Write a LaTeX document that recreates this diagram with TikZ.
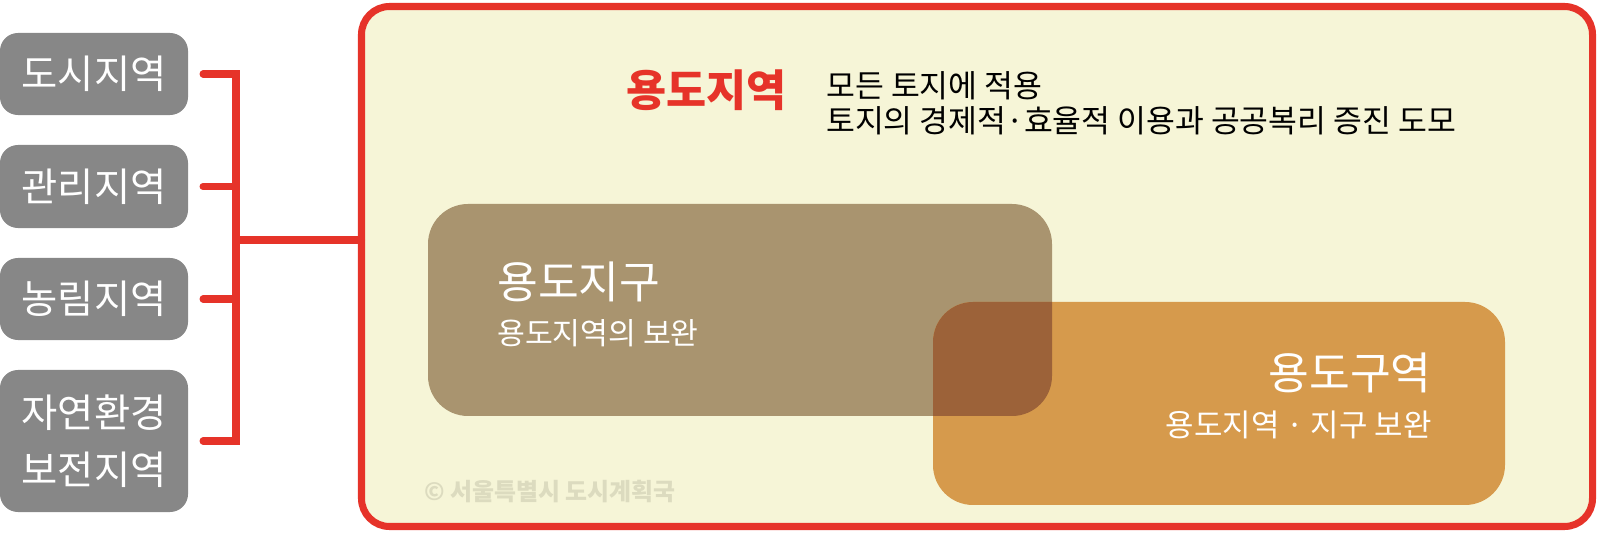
\documentclass[tikz,border=0pt]{standalone}
\usepackage{fontspec}
\setmainfont{Noto Sans CJK KR}
\definecolor{linered}{HTML}{E63329}
\definecolor{cream}{HTML}{F6F5D7}
\definecolor{boxgray}{HTML}{878787}
\definecolor{jigubrown}{HTML}{A9946F}
\definecolor{guyeokorange}{HTML}{D69A4C}
\definecolor{overlapbrown}{HTML}{9C6239}
\definecolor{markgray}{HTML}{DCDBBF}
\begin{document}
\begin{tikzpicture}[x=0.025cm,y=-0.025cm,
	grbox/.style={fill=boxgray,rounded corners=0.45cm,minimum width=4.7cm,text=white,
		font=\fontsize{28}{40.5}\selectfont,align=center,inner sep=0,outer sep=0},
	bracket/.style={draw=linered,line width=5pt,line cap=round},
	areabox/.style={rounded corners=1cm,inner sep=0,outer sep=0}]
	\useasboundingbox (0,0) rectangle (1600,543);
	\node[grbox,minimum height=2.05cm] (dosi) at (94,74) {도시지역};
	\node[grbox,minimum height=2.075cm] (gwanri) at (94,186.5) {관리지역};
	\node[grbox,minimum height=2.05cm] (nongrim) at (94,299) {농림지역};
	\node[grbox,minimum height=3.55cm] (jayeon) at (94,441) {자연환경\\보전지역};
	\node[draw=linered,line width=5pt,fill=cream,rounded corners=0.7cm,inner sep=0,outer sep=0,
		minimum width=1231*0.025cm,minimum height=520*0.025cm] (yongdo) at (977,266.5) {};
	\coordinate (spine) at (236,240);
	\draw[bracket] ([xshift=0.375cm]dosi.east) -| (spine |- jayeon.east) -- ([xshift=0.375cm]jayeon.east);
	\draw[bracket] ([xshift=0.375cm]gwanri.east) -- (gwanri.east -| spine);
	\draw[bracket] ([xshift=0.375cm]nongrim.east) -- (nongrim.east -| spine);
	\draw[bracket] (spine) -- (spine -| yongdo.west);
	\path
	(626,90) node[anchor=west,inner sep=0,text=linered,font=\fontsize{31}{31}\selectfont\bfseries] (title) {용도지역}
	(826,86) node[anchor=west,inner sep=0,font=\fontsize{22.3}{25}\selectfont] (desca) {모든 토지에 적용}
	(826,121) node[anchor=west,inner sep=0,font=\fontsize{22.3}{25}\selectfont] (descb) {토지의 경제적·효율적 이용과 공공복리 증진 도모}
	(424,492) node[anchor=west,inner sep=0,text=markgray,font=\fontsize{17}{17}\selectfont\bfseries] (credit) {© 서울특별시 도시계획국}
	;
	\node[areabox,fill=jigubrown,minimum width=624*0.025cm,minimum height=212*0.025cm] (jigu) at (740,310) {};
	\node[areabox,fill=guyeokorange,minimum width=572*0.025cm,minimum height=203*0.025cm] (guyeok) at (1219,403.5) {};
	\begin{scope}
		\clip[rounded corners=1cm] (jigu.south west) rectangle (jigu.north east);
		\fill[overlapbrown,rounded corners=1cm] (guyeok.south west) rectangle (guyeok.north east);
	\end{scope}
	\path[text=white,inner sep=0]
	(497,282) node[anchor=west,font=\fontsize{31.5}{31.5}\selectfont] (jigutitle) {용도지구}
	(497,333) node[anchor=west,font=\fontsize{21.5}{21.5}\selectfont] (jigutext) {용도지역의 보완}
	(1432,373) node[anchor=east,font=\fontsize{31.5}{31.5}\selectfont] (guyeoktitle) {용도구역}
	(1432,425) node[anchor=east,font=\fontsize{22}{22}\selectfont] (guyeoktext) {용도지역 · 지구 보완}
	;
	%\draw[help lines] (0,0) grid[step=100] (1600,543);
\end{tikzpicture}
\end{document}
